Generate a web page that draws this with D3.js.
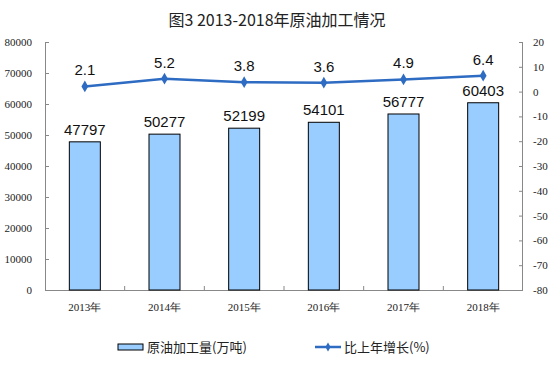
<!DOCTYPE html>
<html><head><meta charset="utf-8">
<script src="https://cdn.jsdelivr.net/npm/d3@7"></script>
<style>body{margin:0;background:#fff}svg{display:block}</style>
</head><body>
<svg id="c" width="554" height="381"></svg>
<script>
const categories = ["2013年","2014年","2015年","2016年","2017年","2018年"];
const output = [47797,50277,52199,54101,56777,60403];
const growth = [2.1,5.2,3.8,3.6,4.9,6.4];
const leftTicks = [0,10000,20000,30000,40000,50000,60000,70000,80000];
const rightTicks = [-80,-70,-60,-50,-40,-30,-20,-10,0,10,20];
const title = "图3 2013-2018年原油加工情况";
const legendLabels = ["原油加工量(万吨)","比上年增长(%)"];

const svg = d3.select("#c");
const L = 45, R = 523, T = 42, B = 290;
const x = d3.scaleBand().domain(categories).range([L, R]);
const yL = d3.scaleLinear().domain([0, 80000]).range([B, T]);
const yR = d3.scaleLinear().domain([-80, 20]).range([B, T]);
const axisColor = "#888";
const serif = "'Liberation Serif','DejaVu Serif',serif";
const sans = "Arial,'Liberation Sans','Noto Sans CJK SC',sans-serif";
const cjk = "'Noto Sans CJK SC',sans-serif";

svg.append("text").attr("x", 277).attr("y", 26).attr("text-anchor", "middle")
  .attr("font-family", cjk).attr("font-size", 16).attr("fill", "#222")
  .attr("style", "white-space:pre").text(title);

// left axis
const gl = svg.append("g").attr("transform", `translate(${L},0)`)
  .call(d3.axisLeft(yL).tickValues(leftTicks).tickSize(-4).tickPadding(13).tickFormat(d => String(d)));
// right axis
const gr = svg.append("g").attr("transform", `translate(${R},0)`)
  .call(d3.axisRight(yR).tickValues(rightTicks).tickSize(-4).tickPadding(10).tickFormat(d => String(d)));
// bottom axis
const gb = svg.append("g").attr("transform", `translate(0,${B})`)
  .call(d3.axisBottom(x).tickSize(0).tickPadding(13));
[gl, gr, gb].forEach(g => {
  g.selectAll(".domain").attr("stroke", axisColor).attr("stroke-width", 1);
  g.selectAll(".tick line").attr("stroke", axisColor);
  g.selectAll("text").attr("font-family", serif).attr("font-size", 11).attr("fill", "#222");
});
gl.select(".domain").attr("d", `M0.5,${T}V${B}`);
gr.select(".domain").attr("d", `M-0.5,${T}V${B}`);
gb.select(".domain").attr("d", `M${L},0.5H${R}`);
// category boundary ticks
svg.append("g").selectAll("line").data(categories.slice(1)).join("line")
  .attr("x1", d => x(d)).attr("x2", d => x(d)).attr("y1", B).attr("y2", B - 4)
  .attr("stroke", axisColor);

// bars
const bw = 31;
svg.append("g").selectAll("rect").data(output).join("rect")
  .attr("x", (d, i) => x(categories[i]) + x.bandwidth() / 2 - bw / 2)
  .attr("y", d => yL(d)).attr("width", bw).attr("height", d => B - yL(d))
  .attr("fill", "#99CCFF").attr("stroke", "#000").attr("stroke-width", 1);
svg.append("g").selectAll("text").data(output).join("text")
  .attr("x", (d, i) => x(categories[i]) + x.bandwidth() / 2)
  .attr("y", d => yL(d) - 7).attr("text-anchor", "middle")
  .attr("font-family", sans).attr("font-size", 15).attr("fill", "#111").text(d => d);

// line
const cx = i => x(categories[i]) + x.bandwidth() / 2;
const lineColor = "#2E6BC2";
svg.append("path").datum(growth)
  .attr("d", d3.line().x((d, i) => cx(i)).y(d => yR(d)))
  .attr("fill", "none").attr("stroke", lineColor).attr("stroke-width", 2.5);
svg.append("g").selectAll("path").data(growth).join("path")
  .attr("transform", (d, i) => `translate(${cx(i)},${yR(d)})`)
  .attr("d", d3.symbol().type(d3.symbolDiamond).size(40))
  .attr("fill", lineColor);
svg.append("g").selectAll("text").data(growth).join("text")
  .attr("x", (d, i) => cx(i)).attr("y", d => yR(d) - 11).attr("text-anchor", "middle")
  .attr("font-family", sans).attr("font-size", 15).attr("fill", "#111").text(d => d.toFixed(1));

// legend
const lg = svg.append("g");
lg.append("rect").attr("x", 118).attr("y", 344).attr("width", 25).attr("height", 6)
  .attr("fill", "#99CCFF").attr("stroke", "#000").attr("stroke-width", 1);
lg.append("text").attr("x", 147).attr("y", 352).attr("font-family", cjk).attr("font-size", 13)
  .attr("fill", "#222").text(legendLabels[0]);
lg.append("line").attr("x1", 315).attr("x2", 341).attr("y1", 347).attr("y2", 347)
  .attr("stroke", lineColor).attr("stroke-width", 2.5);
lg.append("path").attr("transform", "translate(328,347)")
  .attr("d", d3.symbol().type(d3.symbolDiamond).size(24)).attr("fill", lineColor);
lg.append("text").attr("x", 344).attr("y", 352).attr("font-family", cjk).attr("font-size", 13)
  .attr("fill", "#222").text(legendLabels[1]);
</script>
</body></html>
